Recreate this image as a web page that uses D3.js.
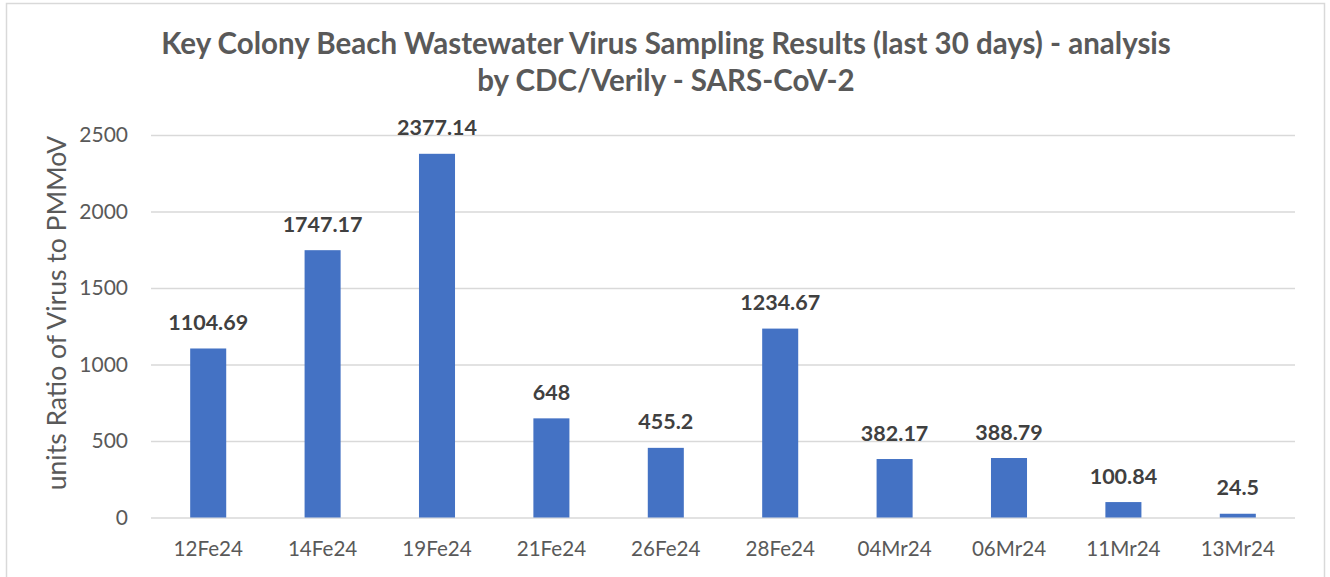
<!DOCTYPE html>
<html><head><meta charset="utf-8">
<script src="https://cdn.jsdelivr.net/npm/d3@7"></script>
<style>body{margin:0;background:#fff}svg{display:block;font-family:Lato,"Open Sans",sans-serif}</style>
</head><body><svg id="c" width="1330" height="577"></svg>
<script>
const categories = ["12Fe24","14Fe24","19Fe24","21Fe24","26Fe24","28Fe24","04Mr24","06Mr24","11Mr24","13Mr24"];
const values = [1104.69,1747.17,2377.14,648,455.2,1234.67,382.17,388.79,100.84,24.5];
const valueLabels = ["1104.69","1747.17","2377.14","648","455.2","1234.67","382.17","388.79","100.84","24.5"];
const yTicks = [0,500,1000,1500,2000,2500];
const titleLines = ["Key Colony Beach Wastewater Virus Sampling Results (last 30 days) - analysis","by CDC/Verily - SARS-CoV-2"];
const yTitle = "units Ratio of Virus to PMMoV";

const svg = d3.select("#c");
svg.append("rect").attr("x",6.5).attr("y",3.5).attr("width",1318).attr("height",590)
  .attr("fill","#fff").attr("stroke","#d9d9d9").attr("stroke-width",1.5);

const m = {l:151, r:1295, t:135, b:517.5};
const x = d3.scaleBand().domain(categories).range([m.l,m.r]).paddingInner(0.685).paddingOuter(0.3425);
const y = d3.scaleLinear().domain([0,2500]).range([m.b,m.t]);

const grid = svg.append("g").attr("transform",`translate(${m.l},0)`)
  .call(d3.axisLeft(y).tickValues(yTicks).tickSize(-(m.r-m.l)).tickPadding(23).tickFormat(d3.format("d")));
grid.select(".domain").remove();
grid.selectAll(".tick line").attr("stroke","#d9d9d9").attr("stroke-width",1.3);
grid.selectAll(".tick text").attr("fill","#595959").style("font-size","21px").style("font-family","Lato,sans-serif");

svg.append("g").selectAll("rect").data(values).join("rect")
  .attr("x",(d,i)=>x(categories[i])).attr("width",x.bandwidth())
  .attr("y",d=>y(d)).attr("height",d=>y(0)-y(d)).attr("fill","#4472C4");

svg.append("g").selectAll("text").data(values).join("text")
  .attr("x",(d,i)=>x(categories[i])+x.bandwidth()/2).attr("y",d=>y(d)-18.5)
  .attr("text-anchor","middle").attr("fill","#404040").style("font-size","21.5px").style("font-weight","bold")
  .text((d,i)=>valueLabels[i]);

const xa = svg.append("g").attr("transform",`translate(0,${m.b})`)
  .call(d3.axisBottom(x).tickSize(0).tickPadding(24));
xa.select(".domain").remove();
xa.selectAll(".tick text").attr("fill","#595959").style("font-size","20.6px").style("font-family","Lato,sans-serif");

svg.append("text").attr("transform","translate(66,313) rotate(-90)").attr("text-anchor","middle")
  .attr("fill","#595959").style("font-size","26.5px").text(yTitle);

svg.append("g").selectAll("text").data(titleLines).join("text")
  .attr("x",666).attr("y",(d,i)=>54+i*37).attr("text-anchor","middle")
  .attr("fill","#595959").style("font-size","29.5px").style("font-weight","bold").text(d=>d);
</script></body></html>
